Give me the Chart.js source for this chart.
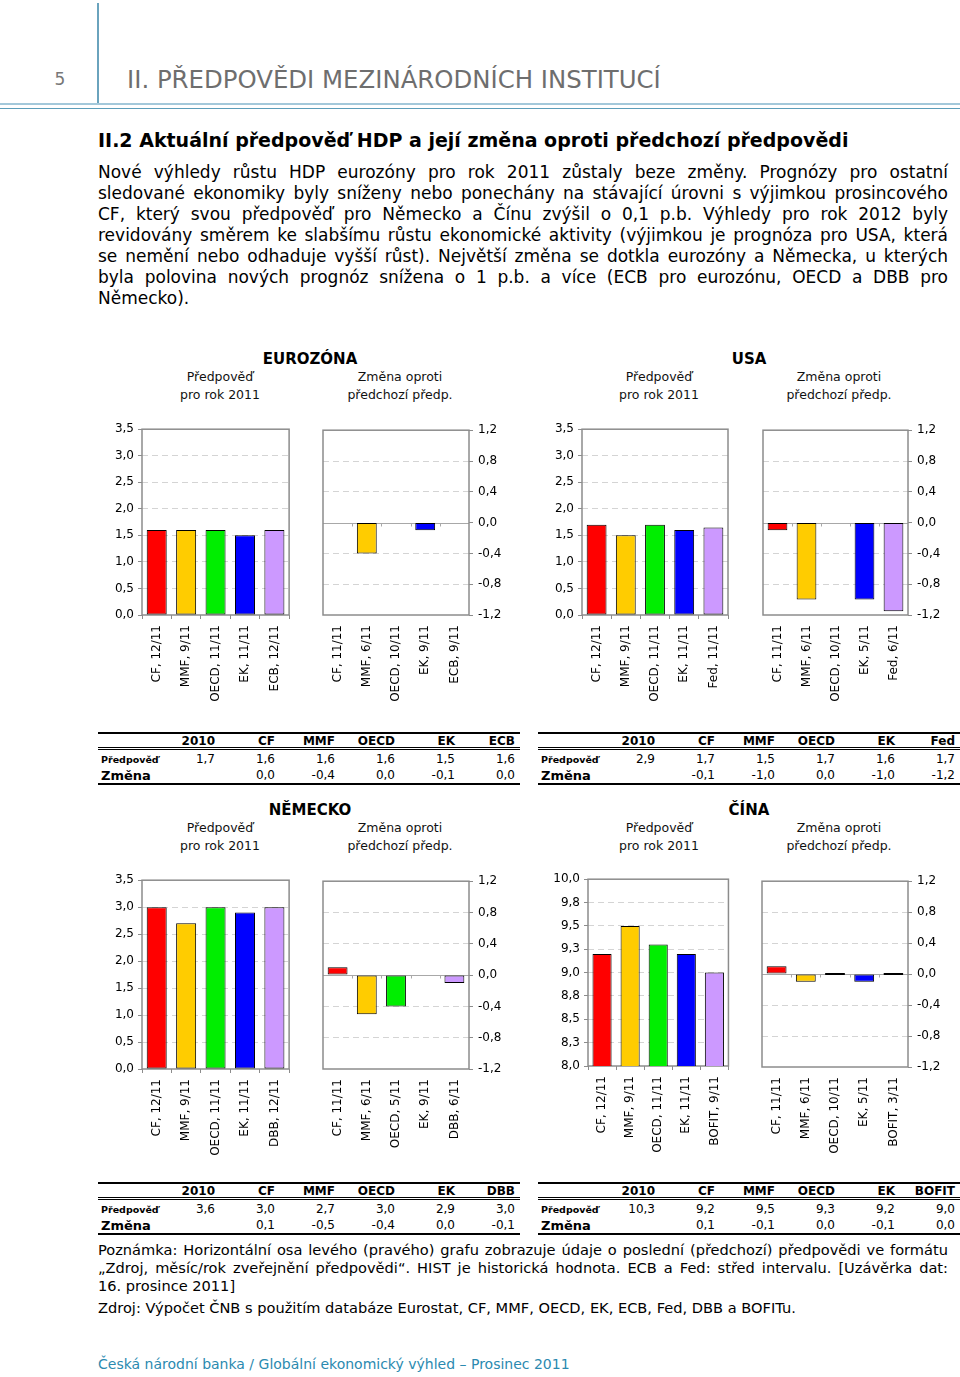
<!DOCTYPE html>
<html lang="cs">
<head>
<meta charset="utf-8">
<title>II. Předpovědi mezinárodních institucí</title>
<script src="https://cdn.jsdelivr.net/npm/chart.js@4.4.0/dist/chart.umd.min.js"></script>
<style>
  body { margin: 0; width: 960px; height: 1377px; position: relative; overflow: hidden; background: #fff;
         font-family: "DejaVu Sans", Verdana, sans-serif; color: #000; }
  .abs { position: absolute; white-space: nowrap; }
  canvas { position: absolute; }
  .pagenum { left: 40px; top: 69px; width: 40px; text-align: center; font-size: 17px; color: #777; }
  .vline { left: 97px; top: 3px; width: 2px; height: 100px; background: #6aa3bd; }
  .hline1 { left: 0; top: 103px; width: 960px; height: 2px; background: #a3c8da; }
  .hline2 { left: 0; top: 108px; width: 960px; height: 1px; background: #5c9db9; }
  .chapter { left: 127px; top: 66px; font-size: 24.4px; line-height: 28px; color: #6e6e6e; }
  .heading { left: 98px; top: 128px; font-size: 19px; line-height: 24px; font-weight: bold; }
  .para { left: 98px; top: 162px; width: 850px; font-size: 17px; line-height: 21px; }
  .para div, .notes div.j { text-align: justify; text-align-last: justify; white-space: nowrap; }
  .para div.last { text-align-last: left; }
  .ptitle { font-size: 15px; font-weight: bold; line-height: 18px; width: 200px; text-align: center; }
  .psub { font-size: 12.5px; line-height: 18px; width: 200px; text-align: center; color: #111; }
  .tbl { position: absolute; width: 422px; border-top: 2px solid #000; border-bottom: 2px solid #000; font-size: 12px; }
  .tbl .row { display: grid; grid-template-columns: 57px repeat(6, 60px); }
  .tbl .row span { text-align: right; white-space: nowrap; }
  .tbl .head { font-weight: bold; height: 13px; line-height: 14px; border-bottom: 3px double #000; }
  .tbl .r1 { height: 18px; line-height: 19px; }
  .tbl .r2 { height: 15px; line-height: 15px; }
  .tbl .row span.lab { text-align: left; padding-left: 3px; font-weight: bold; }
  .tbl .r1 span.lab { font-size: 9.5px; }
  .tbl .r2 span.lab { font-size: 13px; }
  .notes { left: 98px; top: 1241px; width: 850px; font-size: 14.6px; line-height: 18px; }
  .source { left: 98px; top: 1299px; font-size: 14.6px; line-height: 18px; }
  .footer { left: 98px; top: 1355px; font-size: 14px; line-height: 18px; color: #2b8ab0; }
</style>
</head>
<body>

<div class="abs pagenum">5</div>
<div class="abs vline"></div>
<div class="abs chapter">II. PŘEDPOVĚDI MEZINÁRODNÍCH INSTITUCÍ</div>
<div class="abs hline1"></div>
<div class="abs hline2"></div>

<div class="abs heading">II.2 Aktuální předpověď HDP a její změna oproti předchozí předpovědi</div>
<div class="abs para">
  <div>Nové výhledy růstu HDP eurozóny pro rok 2011 zůstaly beze změny. Prognózy pro ostatní</div>
  <div>sledované ekonomiky byly sníženy nebo ponechány na stávající úrovni s výjimkou prosincového</div>
  <div>CF, který svou předpověď pro Německo a Čínu zvýšil o 0,1 p.b. Výhledy pro rok 2012 byly</div>
  <div>revidovány směrem ke slabšímu růstu ekonomické aktivity (výjimkou je prognóza pro USA, která</div>
  <div>se nemění nebo odhaduje vyšší růst). Největší změna se dotkla eurozóny a Německa, u kterých</div>
  <div>byla polovina nových prognóz snížena o 1 p.b. a více (ECB pro eurozónu, OECD a DBB pro</div>
  <div class="last">Německo).</div>
</div>

<!-- panel headers -->
<div class="abs ptitle" style="left:210px;top:350px">EUROZÓNA</div>
<div class="abs psub" style="left:120px;top:368px">Předpověď<br>pro rok 2011</div>
<div class="abs psub" style="left:300px;top:368px">Změna oproti<br>předchozí předp.</div>

<div class="abs ptitle" style="left:649px;top:350px">USA</div>
<div class="abs psub" style="left:559px;top:368px">Předpověď<br>pro rok 2011</div>
<div class="abs psub" style="left:739px;top:368px">Změna oproti<br>předchozí předp.</div>

<div class="abs ptitle" style="left:210px;top:801px">NĚMECKO</div>
<div class="abs psub" style="left:120px;top:819px">Předpověď<br>pro rok 2011</div>
<div class="abs psub" style="left:300px;top:819px">Změna oproti<br>předchozí předp.</div>

<div class="abs ptitle" style="left:649px;top:801px">ČÍNA</div>
<div class="abs psub" style="left:559px;top:819px">Předpověď<br>pro rok 2011</div>
<div class="abs psub" style="left:739px;top:819px">Změna oproti<br>předchozí předp.</div>

<canvas id="ezForecastChart"></canvas>
<canvas id="ezChangeChart"></canvas>
<canvas id="usForecastChart"></canvas>
<canvas id="usChangeChart"></canvas>
<canvas id="deForecastChart"></canvas>
<canvas id="deChangeChart"></canvas>
<canvas id="cnForecastChart"></canvas>
<canvas id="cnChangeChart"></canvas>

<div id="tables"></div>

<div class="abs notes">
  <div class="j">Poznámka: Horizontální osa levého (pravého) grafu zobrazuje údaje o poslední (předchozí) předpovědi ve formátu</div>
  <div class="j">„Zdroj, měsíc/rok zveřejnění předpovědi“. HIST je historická hodnota. ECB a Fed: střed intervalu. [Uzávěrka dat:</div>
  <div>16. prosince 2011]</div>
</div>
<div class="abs source">Zdroj: Výpočet ČNB s použitím databáze Eurostat, CF, MMF, OECD, EK, ECB, Fed, DBB a BOFITu.</div>
<div class="abs footer">Česká národní banka / Globální ekonomický výhled – Prosinec 2011</div>

<script>
// ---- data ----
// one colour per institution, same order in every chart (CF, MMF, OECD, EK, last one)
const instColors = ['#ff0000', '#ffcc00', '#00ee00', '#0000ff', '#cc99ff'];

const ezForecastLabels = ['CF, 12/11', 'MMF, 9/11', 'OECD, 11/11', 'EK, 11/11', 'ECB, 12/11'];
const ezForecast = [1.6, 1.6, 1.6, 1.5, 1.6];
const ezChangeLabels = ['CF, 11/11', 'MMF, 6/11', 'OECD, 10/11', 'EK, 9/11', 'ECB, 9/11'];
const ezChange = [0.0, -0.4, 0.0, -0.1, 0.0];

const usForecastLabels = ['CF, 12/11', 'MMF, 9/11', 'OECD, 11/11', 'EK, 11/11', 'Fed, 11/11'];
const usForecast = [1.7, 1.5, 1.7, 1.6, 1.65];
const usChangeLabels = ['CF, 11/11', 'MMF, 6/11', 'OECD, 10/11', 'EK, 5/11', 'Fed, 6/11'];
const usChange = [-0.1, -1.0, 0.0, -1.0, -1.15];

const deForecastLabels = ['CF, 12/11', 'MMF, 9/11', 'OECD, 11/11', 'EK, 11/11', 'DBB, 12/11'];
const deForecast = [3.0, 2.7, 3.0, 2.9, 3.0];
const deChangeLabels = ['CF, 11/11', 'MMF, 6/11', 'OECD, 5/11', 'EK, 9/11', 'DBB, 6/11'];
const deChange = [0.1, -0.5, -0.4, 0.0, -0.1];

const cnForecastLabels = ['CF, 12/11', 'MMF, 9/11', 'OECD, 11/11', 'EK, 11/11', 'BOFIT, 9/11'];
const cnForecast = [9.2, 9.5, 9.3, 9.2, 9.0];
const cnChangeLabels = ['CF, 11/11', 'MMF, 6/11', 'OECD, 10/11', 'EK, 5/11', 'BOFIT, 3/11'];
const cnChange = [0.1, -0.1, 0.0, -0.1, 0.0];

// axis tick labels
const growthTicks = ['0,0', '0,5', '1,0', '1,5', '2,0', '2,5', '3,0', '3,5'];
const chinaTicks = ['8,0', '8,3', '8,5', '8,8', '9,0', '9,3', '9,5', '9,8', '10,0'];
const changeTicks = ['-1,2', '-0,8', '-0,4', '0,0', '0,4', '0,8', '1,2'];

// tables under the charts
const ezTableHead = ['2010', 'CF', 'MMF', 'OECD', 'EK', 'ECB'];
const ezTableForecast = ['1,7', '1,6', '1,6', '1,6', '1,5', '1,6'];
const ezTableChange = ['', '0,0', '-0,4', '0,0', '-0,1', '0,0'];

const usTableHead = ['2010', 'CF', 'MMF', 'OECD', 'EK', 'Fed'];
const usTableForecast = ['2,9', '1,7', '1,5', '1,7', '1,6', '1,7'];
const usTableChange = ['', '-0,1', '-1,0', '0,0', '-1,0', '-1,2'];

const deTableHead = ['2010', 'CF', 'MMF', 'OECD', 'EK', 'DBB'];
const deTableForecast = ['3,6', '3,0', '2,7', '3,0', '2,9', '3,0'];
const deTableChange = ['', '0,1', '-0,5', '-0,4', '0,0', '-0,1'];

const cnTableHead = ['2010', 'CF', 'MMF', 'OECD', 'EK', 'BOFIT'];
const cnTableForecast = ['10,3', '9,2', '9,5', '9,3', '9,2', '9,0'];
const cnTableChange = ['', '0,1', '-0,1', '0,0', '-0,1', '0,0'];

// ---- chart setup ----
Chart.defaults.font.family = '"DejaVu Sans", Verdana, sans-serif';
Chart.defaults.font.size = 12;
Chart.defaults.color = '#000';

const AXIS_W = 42;   // width reserved for the value axis
const PAD_T = 8;     // room above the plot for the top tick label
const PAD_S = 2;     // small side padding so the frame is not clipped
const X_H = 95;      // height reserved for the rotated category labels
const FRAME = '#8c8c8c';

// grey frame round the plot area, plus the solid zero line (with its small ticks) of the change charts
const framePlugin = {
    id: 'frame',
    beforeDatasetsDraw(chart, args, opts) {
        const { ctx, chartArea: a } = chart;
        ctx.save();
        if (opts.zeroLine) {
            const y0 = Math.round(chart.scales.y.getPixelForValue(0)) + 0.5;
            const x = chart.scales.x;
            const half = (x.getPixelForValue(1) - x.getPixelForValue(0)) / 2;
            ctx.strokeStyle = '#a8a8a8';
            ctx.lineWidth = 1;
            ctx.beginPath();
            ctx.moveTo(a.left, y0);
            ctx.lineTo(a.right, y0);
            for (let i = 1; i < chart.data.labels.length; i++) {
                const px = Math.round(x.getPixelForValue(i) - half) + 0.5;
                ctx.moveTo(px, y0);
                ctx.lineTo(px, y0 + 3);
            }
            ctx.stroke();
        }
        ctx.strokeStyle = FRAME;
        ctx.lineWidth = 1.5;
        ctx.strokeRect(a.left, a.top, a.right - a.left, a.bottom - a.top);
        ctx.restore();
    }
};

// dashed grid only inside the frame; the zero tick gets the solid line instead
function gridColor(ctx) {
    const n = ctx.scale.ticks.length;
    if (ctx.index === 0 || ctx.index === n - 1) return 'rgba(0,0,0,0)';
    if (ctx.tick && ctx.tick.value === 0) return 'rgba(0,0,0,0)';
    return '#d4d4d4';
}

function placeCanvas(id, left, top, width, height) {
    const canvas = document.getElementById(id);
    canvas.width = width;
    canvas.height = height;
    canvas.style.left = left + 'px';
    canvas.style.top = top + 'px';
    return canvas;
}

function barDataset(values, minBar) {
    return {
        data: values,
        backgroundColor: instColors,
        borderColor: '#000',
        borderWidth: 1,
        borderSkipped: false,
        barPercentage: 0.68,
        categoryPercentage: 1,
        minBarLength: minBar || 0
    };
}

const categoryTicks = { minRotation: 90, maxRotation: 90, autoSkip: false };

/**
 * Left chart of a panel: forecast level, value axis on the left.
 * plot = {l, t, r, b} is where the framed plot area sits on the page.
 */
function forecastChart(id, plot, labels, values, tickLabels, min, max, step) {
    const w = plot.r - plot.l, h = plot.b - plot.t;
    const canvas = placeCanvas(id, plot.l - AXIS_W, plot.t - PAD_T, AXIS_W + w + PAD_S, PAD_T + h + X_H);
    new Chart(canvas, {
        type: 'bar',
        data: { labels: labels, datasets: [barDataset(values)] },
        options: {
            responsive: false,
            animation: false,
            layout: { padding: { top: PAD_T, right: PAD_S, left: 0, bottom: 0 } },
            plugins: { legend: { display: false }, tooltip: { enabled: false }, frame: {} },
            scales: {
                x: {
                    grid: { drawOnChartArea: false, tickLength: 4, color: FRAME },
                    border: { display: false },
                    ticks: Object.assign({ padding: 6 }, categoryTicks),
                    afterFit: s => { s.height = X_H; }
                },
                y: {
                    min: min,
                    max: max,
                    ticks: { stepSize: step, padding: 4, callback: (v, i) => tickLabels[i] ?? v },
                    grid: { color: gridColor, tickColor: FRAME, tickLength: 4 },
                    border: { display: false, dash: [6, 4] },
                    afterFit: s => { s.width = AXIS_W; }
                }
            }
        },
        plugins: [framePlugin]
    });
}

/**
 * Right chart of a panel: change against the previous forecast, value axis on the right.
 */
function changeChart(id, plot, labels, values, minBar) {
    const w = plot.r - plot.l, h = plot.b - plot.t;
    const canvas = placeCanvas(id, plot.l - PAD_S, plot.t - PAD_T, PAD_S + w + AXIS_W, PAD_T + h + X_H);
    new Chart(canvas, {
        type: 'bar',
        data: { labels: labels, datasets: [barDataset(values, minBar)] },
        options: {
            responsive: false,
            animation: false,
            layout: { padding: { top: PAD_T, left: PAD_S, right: 0, bottom: 0 } },
            plugins: { legend: { display: false }, tooltip: { enabled: false }, frame: { zeroLine: true } },
            scales: {
                x: {
                    grid: { display: false },
                    border: { display: false },
                    ticks: Object.assign({ padding: 2 }, categoryTicks),
                    afterFit: s => { s.height = X_H; }
                },
                y: {
                    position: 'right',
                    min: -1.2,
                    max: 1.2,
                    ticks: { stepSize: 0.4, padding: 5, callback: (v, i) => changeTicks[i] ?? v },
                    grid: { color: gridColor, tickColor: FRAME, tickLength: 4 },
                    border: { display: false, dash: [6, 4] },
                    afterFit: s => { s.width = AXIS_W; }
                }
            }
        },
        plugins: [framePlugin]
    });
}

forecastChart('ezForecastChart', { l: 142, t: 426, r: 293, b: 615 }, ezForecastLabels, ezForecast, growthTicks, 0, 3.5, 0.5);
changeChart('ezChangeChart', { l: 323, t: 426, r: 469, b: 615 }, ezChangeLabels, ezChange);

forecastChart('usForecastChart', { l: 582, t: 426, r: 732, b: 615 }, usForecastLabels, usForecast, growthTicks, 0, 3.5, 0.5);
changeChart('usChangeChart', { l: 763, t: 426, r: 908, b: 615 }, usChangeLabels, usChange);

forecastChart('deForecastChart', { l: 142, t: 877, r: 293, b: 1069 }, deForecastLabels, deForecast, growthTicks, 0, 3.5, 0.5);
changeChart('deChangeChart', { l: 323, t: 877, r: 469, b: 1069 }, deChangeLabels, deChange);

forecastChart('cnForecastChart', { l: 588, t: 876, r: 733, b: 1066 }, cnForecastLabels, cnForecast, chinaTicks, 8, 10, 0.25);
changeChart('cnChangeChart', { l: 762, t: 877, r: 908, b: 1067 }, cnChangeLabels, cnChange, 2);

// ---- tables ----
function buildTable(left, top, heads, forecast, change) {
    const cells = arr => arr.map(v => '<span>' + v + '</span>').join('');
    const t = document.createElement('div');
    t.className = 'tbl';
    t.style.left = left + 'px';
    t.style.top = top + 'px';
    t.innerHTML =
        '<div class="row head"><span class="lab"></span>' + cells(heads) + '</div>' +
        '<div class="row r1"><span class="lab">Předpověď</span>' + cells(forecast) + '</div>' +
        '<div class="row r2"><span class="lab">Změna</span>' + cells(change) + '</div>';
    document.getElementById('tables').appendChild(t);
}

buildTable(98, 732, ezTableHead, ezTableForecast, ezTableChange);
buildTable(538, 732, usTableHead, usTableForecast, usTableChange);
buildTable(98, 1182, deTableHead, deTableForecast, deTableChange);
buildTable(538, 1182, cnTableHead, cnTableForecast, cnTableChange);
</script>
</body>
</html>
